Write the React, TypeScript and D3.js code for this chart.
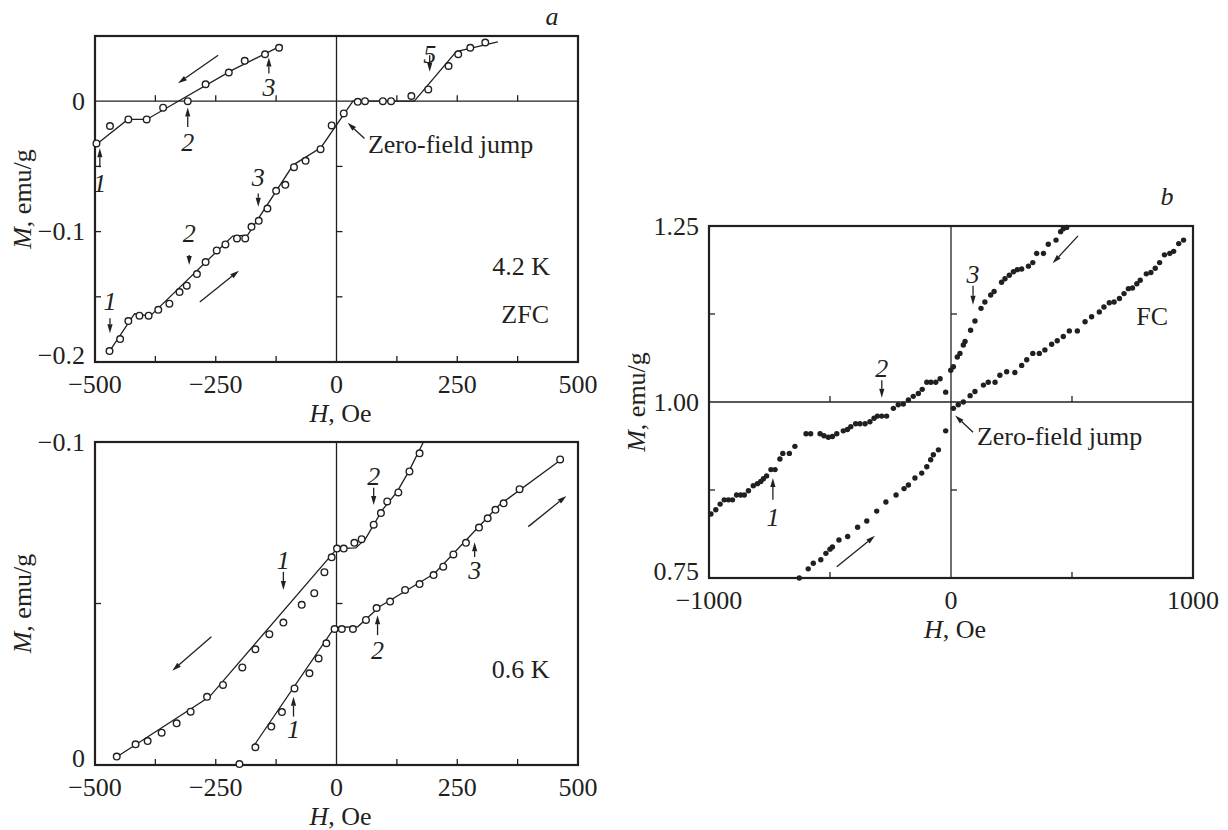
import React from "react";
import * as d3 from "d3";

type P = [number, number];

// ---- panel a, top: 4.2 K, ZFC  [H (Oe), M (emu/g)]
const zfcDownPts: P[] = [
  [-497, -0.0324], [-469, -0.019], [-431, -0.014], [-393, -0.014], [-359, -0.005],
  [-308, 0.0], [-271, 0.013], [-223, 0.022], [-190, 0.031], [-148, 0.036], [-119, 0.041],
];
const zfcDownFit: P[] = [[-500, -0.034], [-432, -0.014], [-393, -0.014], [-215, 0.024], [-112, 0.043]];
const zfcUpPts: P[] = [
  [-470, -0.1916], [-448, -0.1824], [-431, -0.1686], [-408, -0.1645], [-389, -0.1645],
  [-369, -0.16], [-346, -0.1553], [-325, -0.1464], [-310, -0.1415], [-289, -0.1326],
  [-271, -0.1234], [-248, -0.1144], [-230, -0.1098], [-206, -0.1052], [-189, -0.1052],
  [-176, -0.0963], [-161, -0.0917], [-143, -0.0823], [-125, -0.0687], [-106, -0.0641],
  [-88, -0.0506], [-64, -0.0457], [-33, -0.0368], [-10, -0.0186], [15, -0.0094],
  [44, -0.0005], [59, 0], [96, 0], [113, 0], [155, 0.004], [190, 0.009], [232, 0.027],
  [252, 0.036], [277, 0.041], [308, 0.045],
];
const zfcUpFit: P[] = [
  [-466, -0.1895], [-418, -0.163], [-386, -0.1648], [-215, -0.1034], [-184, -0.1027],
  [-90, -0.049], [-32, -0.0355], [34, 0], [161, 0], [248, 0.038], [334, 0.0455],
];

// ---- panel a, bottom: 0.6 K
const lowDownPts: P[] = [
  [-455, -0.0026], [-416, -0.0064], [-391, -0.0074], [-362, -0.01], [-331, -0.0129],
  [-302, -0.0165], [-268, -0.0211], [-235, -0.0248], [-195, -0.0302], [-168, -0.0358],
  [-139, -0.0405], [-110, -0.0441], [-72, -0.0496], [-46, -0.0532], [-25, -0.0597],
  [-10, -0.0643], [1, -0.067], [15, -0.067], [37, -0.0688], [52, -0.0699], [77, -0.0744],
  [92, -0.078], [105, -0.0816], [128, -0.0844], [151, -0.0909], [172, -0.0965],
];
const lowDownFit: P[] = [
  [-452, -0.0028], [-263, -0.0211], [1, -0.067], [40, -0.0672], [60, -0.07],
  [95, -0.079], [125, -0.0845], [150, -0.091], [180, -0.1],
];
const lowUpPts: P[] = [
  [-201, -0.0003], [-168, -0.0055], [-135, -0.0119], [-113, -0.0164], [-87, -0.0237],
  [-56, -0.0284], [-37, -0.033], [-21, -0.0377], [-4, -0.0421], [11, -0.0421], [34, -0.0421],
  [61, -0.0449], [83, -0.0486], [111, -0.0506], [142, -0.0542], [172, -0.056], [201, -0.0588],
  [221, -0.0614], [242, -0.0652], [268, -0.0688], [295, -0.0735], [313, -0.0764],
  [329, -0.079], [346, -0.081], [379, -0.0854], [463, -0.0946],
];
const lowUpFit: P[] = [
  [-170, -0.0062], [-4, -0.0426], [44, -0.0428], [89, -0.049], [203, -0.0593],
  [296, -0.074], [337, -0.0805], [469, -0.095],
];

// ---- panel b: FC
const fcDownPts: P[] = [
  [-992, 0.841], [-972, 0.847], [-954, 0.855], [-937, 0.861], [-920, 0.861], [-903, 0.861],
  [-886, 0.868], [-869, 0.868], [-854, 0.868], [-837, 0.874], [-817, 0.881], [-800, 0.884],
  [-786, 0.887], [-775, 0.891], [-762, 0.895], [-744, 0.904], [-727, 0.904], [-707, 0.919],
  [-695, 0.927], [-668, 0.927], [-645, 0.937], [-599, 0.955], [-580, 0.955], [-541, 0.955],
  [-525, 0.952], [-507, 0.95], [-490, 0.951], [-472, 0.955], [-445, 0.959], [-428, 0.961],
  [-414, 0.965], [-394, 0.969], [-376, 0.969], [-355, 0.969], [-335, 0.972], [-318, 0.977],
  [-304, 0.98], [-286, 0.98], [-266, 0.98], [-238, 0.991], [-218, 0.996], [-197, 0.997],
  [-176, 1.003], [-156, 1.008], [-135, 1.012], [-119, 1.018], [-100, 1.028], [-83, 1.028],
  [-63, 1.028], [-45, 1.033], [-22, 1.014], [-1, 1.045], [10, 1.05], [26, 1.064], [37, 1.069],
  [51, 1.081], [58, 1.086], [81, 1.102], [99, 1.115], [124, 1.133], [140, 1.142], [164, 1.152],
  [178, 1.157], [209, 1.17], [223, 1.175], [241, 1.18], [258, 1.185], [274, 1.188], [292, 1.189],
  [320, 1.193], [338, 1.198], [354, 1.211], [382, 1.211], [402, 1.224], [434, 1.23],
  [453, 1.242], [464, 1.246], [478, 1.248],
];
const fcUpPts: P[] = [
  [-627, 0.75], [-590, 0.763], [-569, 0.771], [-538, 0.776], [-517, 0.785], [-500, 0.791],
  [-490, 0.794], [-463, 0.804], [-427, 0.809], [-386, 0.822], [-348, 0.831], [-307, 0.845],
  [-269, 0.858], [-227, 0.868], [-194, 0.877], [-176, 0.882], [-149, 0.892], [-121, 0.899],
  [-100, 0.908], [-84, 0.918], [-73, 0.925], [-52, 0.932], [-22, 0.959], [10, 0.991],
  [30, 0.996], [51, 1.0], [79, 1.009], [99, 1.015], [134, 1.024], [154, 1.028], [182, 1.028],
  [202, 1.038], [230, 1.043], [264, 1.042], [292, 1.052], [313, 1.06], [338, 1.069],
  [365, 1.069], [388, 1.074], [416, 1.082], [439, 1.087], [464, 1.093], [489, 1.101],
  [522, 1.101], [554, 1.114], [581, 1.121], [613, 1.128], [632, 1.135], [654, 1.141],
  [674, 1.142], [696, 1.147], [715, 1.154], [733, 1.161], [750, 1.162], [768, 1.168],
  [782, 1.173], [807, 1.182], [826, 1.184], [844, 1.19], [862, 1.198], [882, 1.209],
  [904, 1.211], [920, 1.214], [941, 1.225], [961, 1.23],
];

// tick labels
const xLabelsA = [-500, -250, 0, 250, 500];
const xMinorA = [-375, -250, -125, 125, 250, 375];
const yLabelsA1 = [-0.2, -0.1, 0];
const yMinorA1 = [-0.15, -0.1, -0.05];
const yLabelsA2 = [0, -0.1];
const yMinorA2 = [-0.05];
const xLabelsB = [-1000, 0, 1000];
const xMinorB = [-500, 500];
const yLabelsB = [0.75, 1.0, 1.25];
const yMinorB = [0.875, 1.125];

// step marks: label, field, arrow tail, arrow tip, label position (in M)
type Mark = { t: string; h: number; tail: number; tip: number; at: number };
const zfcMarks: Mark[] = [
  { t: "1", h: -490, tail: -0.0506, tip: -0.036, at: -0.063 },
  { t: "2", h: -308, tail: -0.0197, tip: -0.0048, at: -0.0315 },
  { t: "3", h: -140, tail: 0.0212, tip: 0.0335, at: 0.0105 },
  { t: "5", h: 193, tail: 0.0352, tip: 0.0225, at: 0.036 },
  { t: "1", h: -469, tail: -0.1665, tip: -0.178, at: -0.1535 },
  { t: "2", h: -305, tail: -0.118, tip: -0.1257, at: -0.101 },
  { t: "3", h: -162, tail: -0.0708, tip: -0.081, at: -0.058 },
];
const lowMarks: Mark[] = [
  { t: "1", h: -110, tail: -0.0598, tip: -0.0542, at: -0.0635 },
  { t: "1", h: -89, tail: -0.015, tip: -0.0211, at: -0.0112 },
  { t: "2", h: 77, tail: -0.0858, tip: -0.0805, at: -0.0895 },
  { t: "2", h: 85, tail: -0.0402, tip: -0.0464, at: -0.0355 },
  { t: "3", h: 286, tail: -0.0644, tip: -0.069, at: -0.0602 },
];
const fcMarks: Mark[] = [
  { t: "2", h: -286, tail: 1.031, tip: 1.006, at: 1.048 },
  { t: "1", h: -736, tail: 0.861, tip: 0.892, at: 0.837 },
  { t: "3", h: 91, tail: 1.165, tip: 1.138, at: 1.182 },
];

const FONT = "'Liberation Serif', 'Times New Roman', serif";
const INK = "#231f20";
const FS = 26;

const boxA1 = { left: 95, right: 578, top: 36, bottom: 362 };
const boxA2 = { left: 95, right: 578, top: 442, bottom: 765 };
const boxB = { left: 709, right: 1193, top: 226, bottom: 578 };

const fmt = (v: number, d = 0) => {
  const s = Math.abs(v).toFixed(d);
  return v < 0 ? "\u2212" + s : s;
};

function Arrow({ x1, y1, x2, y2 }: { x1: number; y1: number; x2: number; y2: number }) {
  const a = Math.atan2(y2 - y1, x2 - x1);
  const L = 9, Wd = 2.6;
  const bx = x2 - L * Math.cos(a), by = y2 - L * Math.sin(a);
  const px = -Math.sin(a) * Wd, py = Math.cos(a) * Wd;
  return (
    <g>
      <line x1={x1} y1={y1} x2={bx} y2={by} stroke={INK} strokeWidth={1.3} />
      <path d={`M${x2},${y2}L${bx + px},${by + py}L${bx - px},${by - py}Z`} fill={INK} />
    </g>
  );
}

function Axes({ box, x, y, xLabels, xMinor, yLabels, yMinor, hZero, yDec }: any) {
  const x0 = x(0);
  const tick = 6;
  const yz = hZero === null ? null : y(hZero);
  return (
    <g>
      <rect x={box.left} y={box.top} width={box.right - box.left} height={box.bottom - box.top}
        fill="none" stroke={INK} strokeWidth={2.2} />
      <line x1={x0} x2={x0} y1={box.top} y2={box.bottom} stroke={INK} strokeWidth={1.3} />
      {yz !== null && (
        <line x1={box.left} x2={box.right} y1={yz} y2={yz} stroke={INK} strokeWidth={1.3} />
      )}
      {xMinor.map((v: number, i: number) => (
        <g key={"xm" + i}>
          <line x1={x(v)} x2={x(v)} y1={box.bottom} y2={box.bottom - tick} stroke={INK} strokeWidth={1.3} />
          {yz !== null && <line x1={x(v)} x2={x(v)} y1={yz} y2={yz - tick} stroke={INK} strokeWidth={1.3} />}
        </g>
      ))}
      {yMinor.map((v: number, i: number) => (
        <g key={"ym" + i}>
          <line x1={box.left} x2={box.left + tick} y1={y(v)} y2={y(v)} stroke={INK} strokeWidth={1.3} />
          <line x1={x0} x2={x0 + tick} y1={y(v)} y2={y(v)} stroke={INK} strokeWidth={1.3} />
        </g>
      ))}
      {xLabels.map((v: number, i: number) => (
        <text key={"xl" + i} x={x(v)} y={box.bottom + 31} textAnchor="middle">{fmt(v)}</text>
      ))}
      {yLabels.map((v: number, i: number) => (
        <text key={"yl" + i} x={box.left - 10} y={y(v) - (Math.abs(y(v) - box.bottom) < 1 ? 7 : 0)}
          dy="0.34em" textAnchor="end">
          {fmt(v, v === 0 && yDec === 1 ? 0 : yDec)}
        </text>
      ))}
      <text x={x0 + 4} y={box.bottom + 60} textAnchor="middle">
        <tspan fontStyle="italic">H</tspan>, Oe
      </text>
      <text transform={`translate(${box.left - 73},${(box.top + box.bottom) / 2}) rotate(-90)`}
        textAnchor="middle" dy="0.34em">
        <tspan fontStyle="italic">M</tspan>, emu/g
      </text>
    </g>
  );
}

function Marks({ marks, x, y }: { marks: Mark[]; x: any; y: any }) {
  return (
    <g>
      {marks.map((m, i) => (
        <g key={i}>
          <Arrow x1={x(m.h)} y1={y(m.tail)} x2={x(m.h)} y2={y(m.tip)} />
          <text x={x(m.h)} y={y(m.at)} dy="0.34em" textAnchor="middle" fontStyle="italic">{m.t}</text>
        </g>
      ))}
    </g>
  );
}

function Series({ pts, fit, x, y, filled }: any) {
  const line = d3.line<P>().x((d) => x(d[0])).y((d) => y(d[1]));
  return (
    <g>
      {fit && <path d={line(fit) || ""} fill="none" stroke={INK} strokeWidth={1.3} />}
      {pts.map((d: P, i: number) =>
        filled ? (
          <circle key={i} cx={x(d[0])} cy={y(d[1])} r={2.7} fill={INK} />
        ) : (
          <circle key={i} cx={x(d[0])} cy={y(d[1])} r={3.3} fill="#fff" stroke={INK} strokeWidth={1.4} />
        )
      )}
    </g>
  );
}

export default function App() {
  const xA1 = d3.scaleLinear().domain([-500, 500]).range([boxA1.left, boxA1.right]);
  const yA1 = d3.scaleLinear().domain([-0.2, 0.05]).range([boxA1.bottom, boxA1.top]);
  const xA2 = d3.scaleLinear().domain([-500, 500]).range([boxA2.left, boxA2.right]);
  const yA2 = d3.scaleLinear().domain([0, -0.1]).range([boxA2.bottom, boxA2.top]);
  const xB = d3.scaleLinear().domain([-1000, 1000]).range([boxB.left, boxB.right]);
  const yB = d3.scaleLinear().domain([0.75, 1.25]).range([boxB.bottom, boxB.top]);

  return (
    <svg width={1228} height={830} style={{ position: "absolute", left: 0, top: 0, background: "#fff" }}
      fontFamily={FONT} fontSize={FS} fill={INK}>
      {/* panel a, 4.2 K */}
      <Axes box={boxA1} x={xA1} y={yA1} xLabels={xLabelsA} xMinor={xMinorA}
        yLabels={yLabelsA1} yMinor={yMinorA1} hZero={0} yDec={1} />
      <Series pts={zfcDownPts} fit={zfcDownFit} x={xA1} y={yA1} />
      <Series pts={zfcUpPts} fit={zfcUpFit} x={xA1} y={yA1} />
      <Marks marks={zfcMarks} x={xA1} y={yA1} />
      <Arrow x1={xA1(-245)} y1={yA1(0.0352)} x2={xA1(-328)} y2={yA1(0.0138)} />
      <Arrow x1={xA1(-283)} y1={yA1(-0.154)} x2={xA1(-202)} y2={yA1(-0.13)} />
      <Arrow x1={xA1(58)} y1={yA1(-0.0286)} x2={xA1(23)} y2={yA1(-0.0166)} />
      <text x={xA1(65)} y={yA1(-0.04)}>Zero-field jump</text>
      <text x={xA1(442)} y={yA1(-0.133)} textAnchor="end">4.2 K</text>
      <text x={xA1(440)} y={yA1(-0.17)} textAnchor="end">ZFC</text>
      <text x={boxA1.right - 26} y={boxA1.top - 11} textAnchor="middle" fontStyle="italic">a</text>

      {/* panel a, 0.6 K */}
      <Axes box={boxA2} x={xA2} y={yA2} xLabels={xLabelsA} xMinor={xMinorA}
        yLabels={yLabelsA2} yMinor={yMinorA2} hZero={null} yDec={1} />
      <Series pts={lowDownPts} fit={lowDownFit} x={xA2} y={yA2} />
      <Series pts={lowUpPts} fit={lowUpFit} x={xA2} y={yA2} />
      <Marks marks={lowMarks} x={xA2} y={yA2} />
      <Arrow x1={xA2(-259)} y1={yA2(-0.0397)} x2={xA2(-340)} y2={yA2(-0.0292)} />
      <Arrow x1={xA2(397)} y1={yA2(-0.0738)} x2={xA2(476)} y2={yA2(-0.0833)} />
      <text x={xA2(441)} y={yA2(-0.027)} textAnchor="end">0.6 K</text>

      {/* panel b, FC */}
      <Axes box={boxB} x={xB} y={yB} xLabels={xLabelsB} xMinor={xMinorB}
        yLabels={yLabelsB} yMinor={yMinorB} hZero={1} yDec={2} />
      <Series pts={fcDownPts} x={xB} y={yB} filled />
      <Series pts={fcUpPts} x={xB} y={yB} filled />
      <Marks marks={fcMarks} x={xB} y={yB} />
      <Arrow x1={xB(525)} y1={yB(1.236)} x2={xB(420)} y2={yB(1.197)} />
      <Arrow x1={xB(-472)} y1={yB(0.766)} x2={xB(-314)} y2={yB(0.81)} />
      <Arrow x1={xB(91)} y1={yB(0.957)} x2={xB(17)} y2={yB(0.981)} />
      <text x={xB(107)} y={yB(0.939)}>Zero-field jump</text>
      <text x={xB(897)} y={yB(1.109)} textAnchor="end">FC</text>
      <text x={boxB.right - 26} y={boxB.top - 21} textAnchor="middle" fontStyle="italic">b</text>
    </svg>
  );
}
